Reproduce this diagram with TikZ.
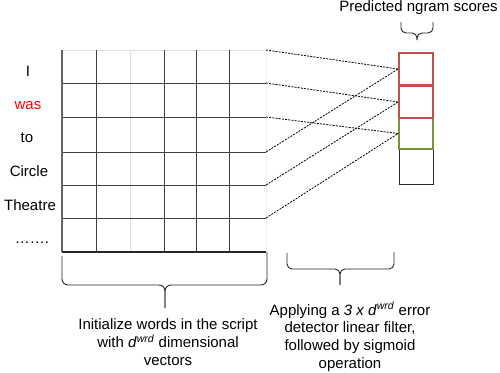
\documentclass[tikz,border=0pt]{standalone}
\usepackage{fontspec}
\setmainfont{Liberation Sans}
\definecolor{pptred}{HTML}{C0504D}
\definecolor{pptgreen}{HTML}{77933C}
\begin{document}
\begin{tikzpicture}[x=1pt,y=-1pt,
  font=\fontsize{15}{17.6}\selectfont,
  gridline/.style={draw=black!75, line width=0.9pt},
  faintline/.style={draw=black!12, line width=0.9pt},
  link/.style={draw=black, line width=0.8pt, dash pattern=on 2pt off 1.2pt},
  bracepath/.style={draw=black!85, line width=0.9pt, rounded corners=5pt},
  cell/.style={draw, rectangle, minimum width=34pt, inner sep=0pt, line width=1.8pt},
  word/.style={anchor=base, inner sep=0pt},
  caption/.style={align=center, anchor=base, inner sep=0pt}]
\useasboundingbox (0,0) rectangle (500,372);

% grid
\draw[faintline] (62,50) -- (266,50);
\draw[faintline] (130,50) -- (130,252);
\draw[draw=black!6, line width=0.9pt] (266,50) -- (266,252);
\foreach \yy in {83,117,152,185,218} \draw[gridline] (62,\yy) -- (266,\yy);
\foreach \xx in {96,164,196,229} \draw[gridline] (\xx,50) -- (\xx,252);
\draw[draw=black!60, line width=1.4pt] (62,50) -- (62,252);
\draw[draw=black!85, line width=1.3pt] (62,252) -- (266,252);

\coordinate (r0) at (266,50);
\coordinate (r1) at (266,83);
\coordinate (r2) at (266,117);
\coordinate (r3) at (266,152);
\coordinate (r4) at (266,185);
\coordinate (r5) at (266,218);

% score column
\node[cell, draw=black!85, line width=1pt, minimum height=35pt] (s4) at (416,166.5) {};
\node[cell, draw=pptgreen, minimum height=31pt] (s3) at (416,133.5) {};
\node[cell, draw=pptred, minimum height=32pt] (s2) at (416,102) {};
\node[cell, draw=pptred, minimum height=32pt] (s1) at (416,69) {};

% window links
\draw[link] (r0) -- (s1.west);
\draw[link] (r1) -- (s2.west);
\draw[link] (r2) -- (s3.west);
\draw[link] (r3) -- (s1.west);
\draw[link] (r4) -- (s2.west);
\draw[link] (r5) -- (s3.west);

% words
\node[word] (w1) at (28,76) {I};
\node[word, text=red] (w2) at (28,109) {was};
\node[word] (w3) at (27,142.5) {to};
\node[word] (w4) at (29,176) {Circle};
\node[word] (w5) at (30,210) {Theatre};
\node[word] (w6) at (32,243) {…….};

% braces
\draw[bracepath] (401,22) -- (401,33) -- (417,33) -- (417,40);
\draw[bracepath] (433,22) -- (433,33) -- (417,33) -- (417,40);
\draw[bracepath, rounded corners=6pt] (62,256) -- (62,285) -- (165,285) -- (165,308);
\draw[bracepath, rounded corners=6pt] (267,252) -- (267,285) -- (165,285) -- (165,308);
\draw[bracepath] (287,253) -- (287,269) -- (340,269) -- (340,285);
\draw[bracepath] (394,252) -- (394,269) -- (340,269) -- (340,285);

% captions
\node[word] (title) at (418.5,12) {Predicted ngram scores};
\node[caption] (cap1) at (168,365) {Initialize words in the script\\with \textit{d}\textsuperscript{\textit{wrd}} dimensional\\vectors};
\node[caption] (cap2) at (350,368) {Applying a \textit{3 x d}\textsuperscript{\textit{wrd}} error\\detector linear filter,\\followed by sigmoid\\operation};
\end{tikzpicture}
\end{document}
